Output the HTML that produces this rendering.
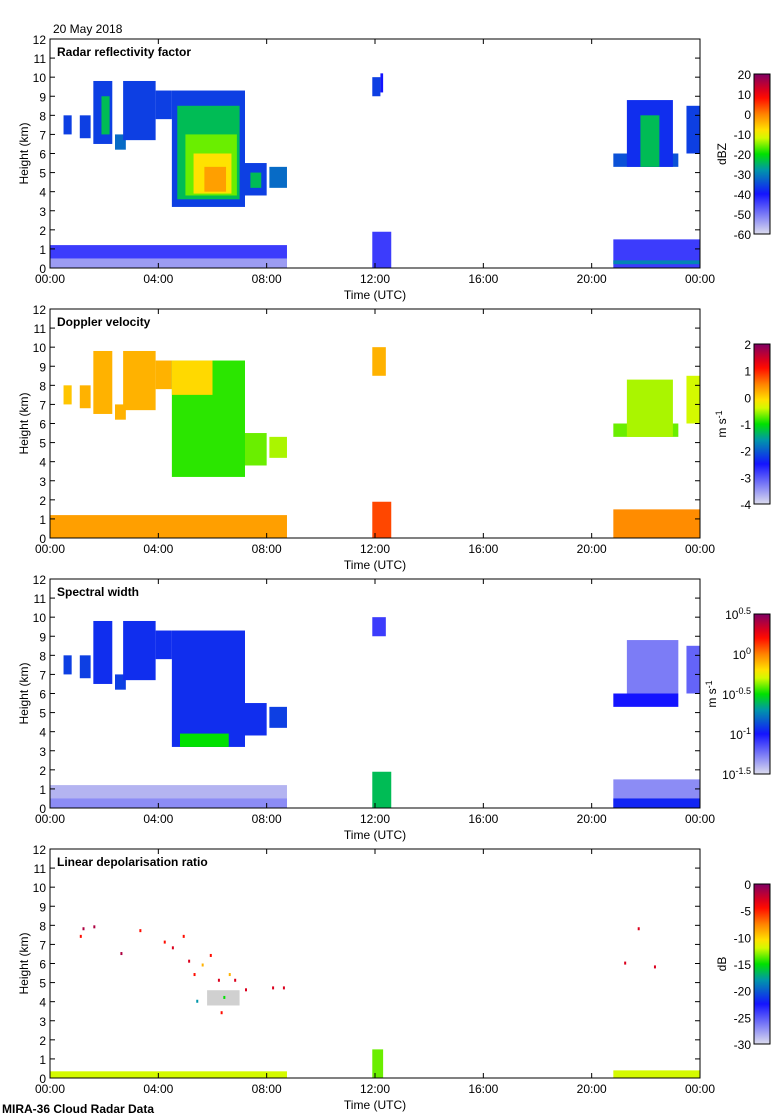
<!DOCTYPE html>
<html><head><meta charset="utf-8">
<style>
body{margin:0;background:#fff;}
svg{display:block;font-family:"Liberation Sans",sans-serif;}
</style></head>
<body>
<svg id="fig" width="780" height="1120" xmlns="http://www.w3.org/2000/svg">
<text x="53" y="33" font-size="12">20 May 2018</text>
<text x="2" y="1113" font-size="12" font-weight="bold">MIRA-36 Cloud Radar Data</text>
</svg>
<script>
// ---- data (time in hours, heights in km, value as fraction of colorbar 0..1; -1 = grey) ----
const timeTicks = ["00:00","04:00","08:00","12:00","16:00","20:00","00:00"];
const heightTicks = [0,1,2,3,4,5,6,7,8,9,10,11,12];
const panelTitles = ["Radar reflectivity factor","Doppler velocity","Spectral width","Linear depolarisation ratio"];
const cbarLabels1 = ["20","10","0","-10","-20","-30","-40","-50","-60"];
const cbarLabels2 = ["2","1","0","-1","-2","-3","-4"];
const cbarLabels3 = ["0.5","0","-0.5","-1","-1.5"];
const cbarLabels4 = ["0","-5","-10","-15","-20","-25","-30"];
const cbarUnits = ["dBZ","m s-1","m s-1","dB"];
// echoes: [t0, t1, base, top, level]
const echoes1 = [
 [0.5,0.8,7,8,0.3],[1.1,1.5,6.8,8,0.3],[1.6,2.3,6.5,9.8,0.3],[1.9,2.2,7,9,0.45],[2.4,2.8,6.2,7,0.35],
 [2.7,3.9,6.7,9.8,0.3],[3.9,4.5,7.8,9.3,0.3],[4.5,7.2,3.2,9.3,0.3],[4.7,7,3.6,8.5,0.45],
 [5,6.9,3.8,7,0.55],[5.3,6.7,3.9,6,0.65],[5.7,6.5,4,5.3,0.72],[7.2,8,3.8,5.5,0.3],[7.4,7.8,4.2,5,0.45],
 [8.1,8.75,4.2,5.3,0.35],[11.9,12.2,9,10,0.3],[12.2,12.3,9.2,10.2,0.25],
 [20.8,23.2,5.3,6,0.32],[21.3,23,5.3,8.8,0.28],[21.8,22.5,5.3,8,0.45],[23.5,24,6,8.5,0.3],
 [0,8.75,0,1.2,0.2],[0,8.75,0,0.5,0.08],[11.9,12.6,0,1.9,0.2],[20.8,24,0,1.5,0.2],[20.8,24,0.2,0.4,0.38]
];
const echoes2 = [
 [0.5,0.8,7,8,0.68],[1.1,1.5,6.8,8,0.7],[1.6,2.3,6.5,9.8,0.7],[2.4,2.8,6.2,7,0.7],
 [2.7,3.9,6.7,9.8,0.7],[3.9,4.5,7.8,9.3,0.7],[4.5,7.2,3.2,9.3,0.52],[4.5,6,7.5,9.3,0.66],
 [7.2,8,3.8,5.5,0.55],[8.1,8.75,4.2,5.3,0.58],[11.9,12.4,8.5,10,0.7],
 [20.8,23.2,5.3,6,0.55],[21.3,23,5.3,8.3,0.58],[23.5,24,6,8.5,0.6],
 [0,8.75,0,1.2,0.72],[11.9,12.6,0,1.9,0.8],[20.8,24,0,1.5,0.74]
];
const echoes3 = [
 [0.5,0.8,7,8,0.3],[1.1,1.5,6.8,8,0.3],[1.6,2.3,6.5,9.8,0.28],[2.4,2.8,6.2,7,0.3],
 [2.7,3.9,6.7,9.8,0.28],[3.9,4.5,7.8,9.3,0.28],[4.5,7.2,3.2,9.3,0.28],[4.8,6.6,3.2,3.9,0.5],
 [7.2,8,3.8,5.5,0.28],[8.1,8.75,4.2,5.3,0.3],[11.9,12.4,9,10,0.2],
 [20.8,23.2,5.3,6,0.25],[21.3,23.2,6,8.8,0.12],[23.5,24,6,8.5,0.15],
 [0,8.75,0,1.2,0.05],[0,8.75,0,0.5,0.1],[11.9,12.6,0,1.9,0.45],[20.8,24,0,1.5,0.1],[20.8,24,0,0.5,0.27]
];
const echoes4 = [
 [5.8,7,3.8,4.6,-1],[0,8.75,0,0.35,0.6],[11.9,12.3,0,1.5,0.55],[20.8,24,0,0.4,0.6]
];
const dots4 = [[1.1,7.5,0.85],[1.2,7.9,0.95],[1.6,8,0.95],[2.6,6.6,0.95],[3.3,7.8,0.85],
 [4.2,7.2,0.85],[4.5,6.9,0.9],[4.9,7.5,0.85],[5.1,6.2,0.9],[5.3,5.5,0.85],[5.6,6,0.7],[5.9,6.5,0.85],
 [6.2,5.2,0.9],[6.4,4.3,0.5],[6.6,5.5,0.7],[6.8,5.2,0.9],[7.2,4.7,0.9],[8.2,4.8,0.9],[8.6,4.8,0.9],
 [5.4,4.1,0.4],[6.3,3.5,0.85],[21.7,7.9,0.9],[22.3,5.9,0.9],[21.2,6.1,0.9]];
const echoSets = [echoes1,echoes2,echoes3,echoes4];
const cbarSets = [cbarLabels1,cbarLabels2,cbarLabels3,cbarLabels4];

// ---- helpers ----
const NS="http://www.w3.org/2000/svg";
const svg=document.getElementById('fig');
const X0=50,X1=700,PH=229;
function xs(t){return X0+t/24*(X1-X0);}
function ys(h,p){return 39+270*p+(12-h)*PH/12;}
const stops=[[0,[220,220,238]],[0.25,[20,20,255]],[0.4,[0,150,170]],[0.5,[0,225,0]],[0.62,[255,255,0]],[0.75,[255,130,0]],[0.86,[255,0,0]],[1,[128,0,100]]];
function cmap(v){if(v<0)return '#d0d0d0';for(let i=1;i<stops.length;i++){if(v<=stops[i][0]){const a=stops[i-1],b=stops[i],f=(v-a[0])/(b[0]-a[0]);return 'rgb('+a[1].map((c,k)=>Math.round(c+(b[1][k]-c)*f)).join(',')+')';}}return 'rgb(128,0,100)';}
function el(tag,attrs,parent){const e=document.createElementNS(NS,tag);for(const k in attrs)e.setAttribute(k,attrs[k]);(parent||svg).appendChild(e);return e;}

const defs=el('defs',{});
const lg=el('linearGradient',{id:'cb',x1:0,y1:1,x2:0,y2:0},defs);
for(let i=0;i<=20;i++){el('stop',{offset:i/20,'stop-color':cmap(i/20)},lg);}

for(let p=0;p<4;p++){
  const g=el('g',{});
  
  
  const top=39+270*p;
  echoSets[p].forEach(e=>{
    const r=el('rect',{x:xs(e[0]),y:ys(e[3],p),width:xs(e[1])-xs(e[0]),height:ys(e[2],p)-ys(e[3],p),fill:cmap(e[4])},g);
    
    
  });
  if(p===3){dots4.forEach(d=>{const r=el('rect',{x:xs(d[0]),y:ys(d[1],p),width:2,height:3,fill:cmap(d[2])},g);
    
    });}
  const f=el('rect',{x:X0,y:top,width:X1-X0,height:PH,fill:'none',stroke:'#000','stroke-width':1},g);
  
  
  heightTicks.forEach(h=>{
    const y=ys(h,p);
    el('line',{x1:X0,x2:X0+5,y1:y,y2:y,stroke:'#000'},g);
    el('line',{x1:X1-5,x2:X1,y1:y,y2:y,stroke:'#000'},g);
    const t=el('text',{x:X0-4,y:y+5,'font-size':12,'text-anchor':'end'},g);t.textContent=h;
    
    
  });
  timeTicks.forEach((s,i)=>{
    const x=xs(i*4);
    el('line',{x1:x,x2:x,y1:top+PH,y2:top+PH-5,stroke:'#000'},g);
    el('line',{x1:x,x2:x,y1:top,y2:top+5,stroke:'#000'},g);
    const t=el('text',{x:x,y:top+PH+15,'font-size':12,'text-anchor':'middle'},g);t.textContent=s;
    
    
  });
  const xt=el('text',{x:375,y:top+PH+31,'font-size':12,'text-anchor':'middle'},g);xt.textContent='Time (UTC)';
  
  
  const yt=el('text',{x:0,y:0,'font-size':12,'text-anchor':'middle',transform:'translate(28,'+(top+PH/2)+') rotate(-90)'},g);yt.textContent='Height (km)';
  
  
  const tt=el('text',{x:57,y:top+17,'font-size':12,'font-weight':'bold'},g);tt.textContent=panelTitles[p];
  
  
  const cy0=top+35,cy1=top+195;
  const cb=el('rect',{x:754,y:cy0,width:16,height:cy1-cy0,fill:'url(#cb)',stroke:'#000'},g);
  
  
  const labs=cbarSets[p];
  labs.forEach((s,i)=>{
    const y=cy0+i*(cy1-cy0)/(labs.length-1);
    const t=el('text',{x:751,y:y+5,'font-size':12,'text-anchor':'end'},g);
    if(p===2){t.textContent='10';const sp=el('tspan',{dy:-5,'font-size':9},t);sp.textContent=s;}
    else t.textContent=s;
    
    
  });
  const ux=(p===2)?716:726;
  const ut=el('text',{x:0,y:0,'font-size':12,'text-anchor':'middle',transform:'translate('+ux+','+(top+115)+') rotate(-90)'},g);
  if(p===1||p===2){ut.textContent='m s';const sp=el('tspan',{dy:-4,'font-size':9},ut);sp.textContent='-1';}
  else ut.textContent=cbarUnits[p];
  
  
}
</script>
</body></html>
